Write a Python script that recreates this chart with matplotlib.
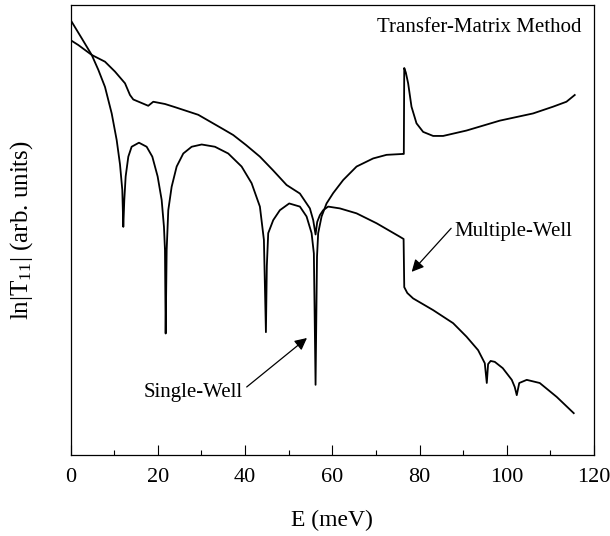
import matplotlib
matplotlib.use('Agg')
import matplotlib.pyplot as plt

plt.rcParams['font.family'] = 'Liberation Serif'
plt.rcParams['mathtext.fontset'] = 'custom'
plt.rcParams['mathtext.rm'] = 'Liberation Serif'
plt.rcParams['mathtext.it'] = 'Liberation Serif:italic'

# single-well: smooth curve with resonance dips, then the upper branch after 56 meV
e_single = [0, 2.57, 4.86, 6.37, 7.90, 9.44, 10.58, 11.34, 11.87, 12.10, 12.33, 12.64,
            13.25, 14.01, 15.69, 17.45, 18.75, 19.97, 20.89, 21.42, 21.65, 21.81, 22.04,
            22.41, 23.18, 24.33, 25.85, 27.77, 30.06, 33.10, 36.15, 39.22, 41.51, 43.41,
            44.33, 44.79, 45.00, 45.32, 46.47, 47.99, 50.13, 52.58, 54.11, 55.26, 55.78,
            56.17, 56.50, 56.77, 57.55, 58.69, 60.21, 62.50, 65.57, 69.37, 72.44, 76.24,
            76.40, 76.50, 76.86, 77.39, 78.16, 79.31, 80.83, 83.12, 85.41, 90.77, 98.40,
            106.03, 110.61, 113.68, 115.58]
lnt_single = [96.7, 92.6, 88.9, 85.6, 81.8, 75.9, 70.0, 64.6, 58.9, 50.7, 56.7, 61.9,
              66.3, 68.5, 69.4, 68.5, 66.3, 61.9, 56.7, 50.7, 45.6, 27.0, 45.6,
              54.4, 59.6, 64.1, 67.0, 68.5, 69.0, 68.5, 67.0, 64.1, 60.4, 55.2,
              47.8, 27.3, 42.0, 49.3, 52.2, 54.4, 55.9, 55.2, 53.0, 49.3, 44.8,
              15.6, 44.0, 49.3, 53.0, 55.9, 58.2, 61.1, 64.1, 65.9, 66.7, 66.9,
              66.9, 86.0, 85.0, 82.6, 77.4, 73.7, 71.8, 70.9, 70.9, 72.1, 74.3,
              75.9, 77.4, 78.5, 80.0]

# multiple-well: upper-left curve, then the lower branch with the step at 77 meV
e_multi = [0, 1.79, 4.86, 7.90, 10.19, 12.49, 13.63, 14.39, 17.82, 18.97, 21.65, 23.94,
           29.28, 35.01, 37.30, 40.21, 43.41, 46.39, 49.53, 52.58, 54.87, 55.63, 56.17,
           56.55, 57.16, 57.92, 59.06, 61.74, 65.57, 70.15, 75.49, 76.35, 76.50, 77.20,
           78.53, 83.12, 87.70, 90.77, 93.43, 94.96, 95.42, 95.72, 96.30, 97.25, 99.08,
           101.15, 101.83, 102.29, 102.86, 104.58, 107.56, 111.46, 115.35]
lnt_multi = [92.2, 91.1, 88.9, 87.4, 85.2, 82.6, 80.0, 79.0, 77.6, 78.5, 78.0, 77.3,
             75.6, 72.4, 71.1, 68.9, 66.3, 63.3, 60.0, 58.1, 54.8, 52.2, 49.0,
             51.8, 53.3, 54.4, 55.2, 54.8, 53.7, 51.5, 48.5, 48.0, 37.3, 36.0,
             34.8, 32.2, 29.3, 26.3, 23.3, 20.4, 16.0, 20.2, 20.9, 20.7, 19.3,
             16.7, 15.1, 13.3, 16.0, 16.7, 16.0, 12.9, 9.3]

fig = plt.figure(figsize=(6.1, 5.36), dpi=100)
ax = fig.add_axes([0.1156, 0.1511, 0.8582, 0.8396])

ax.plot(e_single, lnt_single, color='black', lw=1.3)
ax.plot(e_multi, lnt_multi, color='black', lw=1.3)

ax.set_xlim(0, 120)
ax.set_ylim(0, 100)
ax.set_xticks(range(0, 121, 20))
ax.set_xticks(range(10, 120, 20), minor=True)
ax.tick_params(axis='x', which='major', direction='in', length=7, width=0.8,
               labelsize=16, pad=9)
ax.tick_params(axis='x', which='minor', direction='in', length=3.5, width=0.8)
ax.tick_params(axis='y', left=False, labelleft=False)
for s in ax.spines.values():
    s.set_linewidth(0.9)

ax.set_xlabel('E (meV)', fontsize=17)
ax.xaxis.set_label_coords(0.5, -0.122)
ax.set_ylabel(r'ln|T$_{11}$| (arb. units)', fontsize=18)
ax.yaxis.set_label_coords(-0.068, 0.5)

ax.text(117.2, 94.9, 'Transfer-Matrix Method', ha='right', va='center', fontsize=15)

arrow = dict(arrowstyle='-|>', color='black', lw=0.9, mutation_scale=18, shrinkA=1, shrinkB=0)
ax.annotate('Multiple-Well', xy=(78.2, 40.7), xytext=(88.1, 49.6), ha='left', va='center',
            fontsize=15, arrowprops=dict(arrow, relpos=(0, 0.9)))
ax.annotate('Single-Well', xy=(54.2, 26.0), xytext=(39.5, 14.0), ha='right', va='center',
            fontsize=15, arrowprops=dict(arrow, relpos=(1, 0.6)))

fig.savefig('out.png', dpi=100)
